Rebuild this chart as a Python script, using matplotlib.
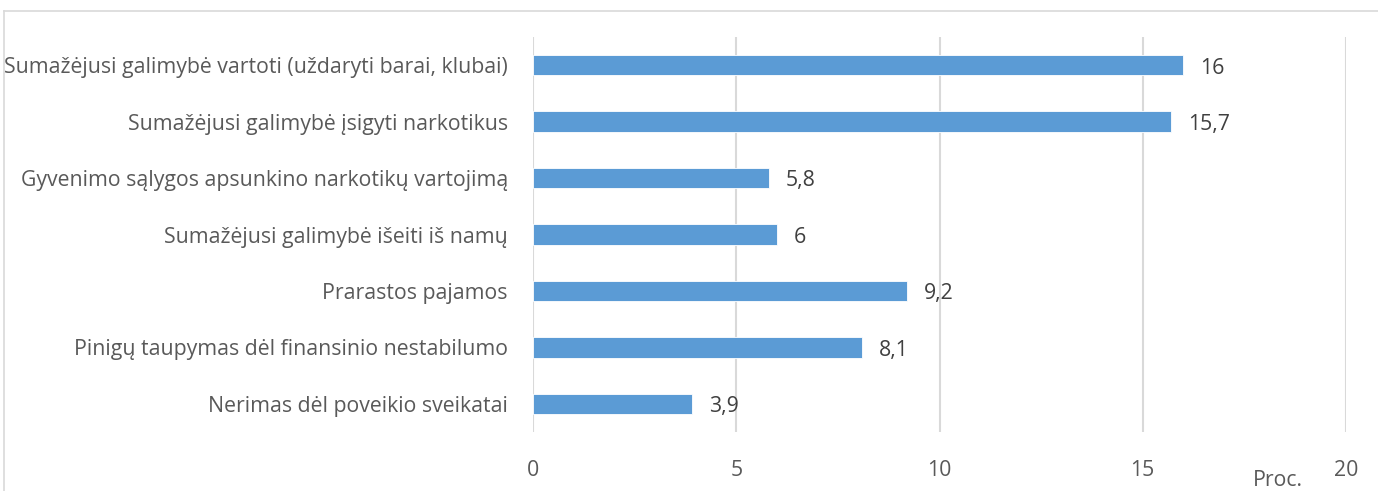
import matplotlib.pyplot as plt
from matplotlib.lines import Line2D

kategorijos = [
    'Sumažėjusi galimybė vartoti (uždaryti barai, klubai)',
    'Sumažėjusi galimybė įsigyti narkotikus',
    'Gyvenimo sąlygos apsunkino narkotikų vartojimą',
    'Sumažėjusi galimybė išeiti iš namų',
    'Prarastos pajamos',
    'Pinigų taupymas dėl finansinio nestabilumo',
    'Nerimas dėl poveikio sveikatai',
]
reiksmes = [16, 15.7, 5.8, 6, 9.2, 8.1, 3.9]
x_ticks = [0, 5, 10, 15, 20]

plt.rcParams['font.family'] = ['Open Sans', 'DejaVu Sans']
pilka = '#595959'
fs = 15.3

fig = plt.figure(figsize=(13.78, 4.91), dpi=100)
ax = fig.add_axes([533 / 1378, 1 - 432 / 491, (1346 - 533) / 1378, (432 - 37) / 491])

y = list(range(len(kategorijos)))
ax.barh(y, reiksmes, height=0.36, color='#5B9BD5', edgecolor='white', linewidth=0.6, zorder=3)

for yi, v in zip(y, reiksmes):
    ax.text(v + 0.42, yi + 0.05, str(v).replace('.', ','), va='center', ha='left',
            fontsize=fs, color='#404040')

ax.set_ylim(len(kategorijos) - 0.5, -0.5)
ax.set_xlim(0, 20)
ax.set_yticks(y)
ax.set_yticklabels(kategorijos, fontsize=fs, color=pilka)
ax.set_xticks(x_ticks)
ax.set_xticklabels([str(t) for t in x_ticks], fontsize=fs, color=pilka)
ax.tick_params(axis='both', length=0)
ax.tick_params(axis='x', pad=20)
ax.tick_params(axis='y', pad=18)
ax.grid(axis='x', color='#d9d9d9', linewidth=1.5, zorder=0)
for s in ax.spines.values():
    s.set_visible(False)

fig.text(1278 / 1378, 1 - 480 / 491, 'Proc.', fontsize=fs, color=pilka, ha='center', va='center')

# remelis aplink diagrama
fig.add_artist(Line2D([4 / 1378, 4 / 1378], [0, 1 - 11 / 491], color='#d9d9d9', linewidth=1.2))
fig.add_artist(Line2D([4 / 1378, 1], [1 - 11 / 491, 1 - 11 / 491], color='#d9d9d9', linewidth=1.2))

fig.savefig('out.png', dpi=100)
